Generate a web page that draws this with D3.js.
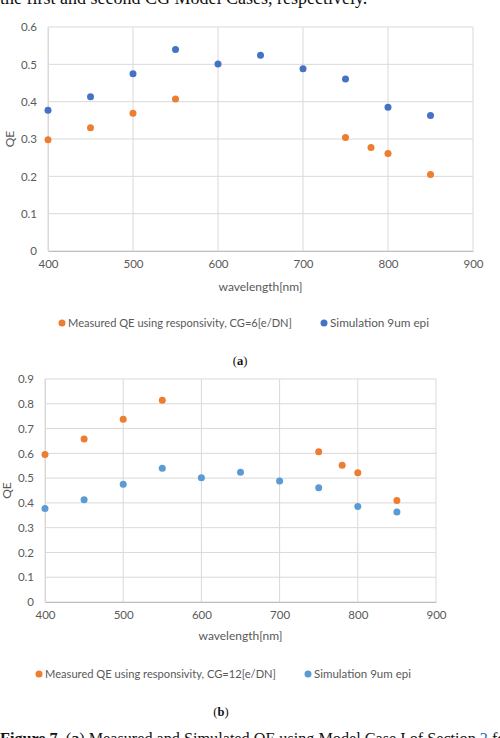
<!DOCTYPE html>
<html>
  <head>
    <title>QE</title>
    <script src="https://cdn.jsdelivr.net/npm/d3@7"></script>
    <style>
      body {
        margin: 0;
        background: white;
      }
      svg {
        display: block;
      }
      .tick text {
        font-family: Lato, "Open Sans", sans-serif;
        font-size: 11.5px;
        fill: #595959;
      }
      .lbl {
        font-family: Lato, "Open Sans", sans-serif;
        fill: #595959;
      }
      .serif {
        font-family: "Liberation Serif", "DejaVu Serif", serif;
        fill: #111;
      }
    </style>
  </head>
  <body>
    <script>
    // wavelengths [nm]
    var simWave = [400, 450, 500, 550, 600, 650, 700, 750, 800, 850];
    var simQE = [0.377, 0.413, 0.475, 0.540, 0.501, 0.524, 0.488, 0.461, 0.385, 0.363];

    var measWave = [400, 450, 500, 550, 750, 780, 800, 850];
    var measQE6 = [0.298, 0.330, 0.369, 0.407, 0.304, 0.277, 0.261, 0.205];
    var measQE12 = [0.595, 0.658, 0.738, 0.814, 0.606, 0.552, 0.522, 0.410];

    var xTicks = [400, 500, 600, 700, 800, 900];
    var yTicksA = [0, 0.1, 0.2, 0.3, 0.4, 0.5, 0.6];
    var yTicksB = [0, 0.1, 0.2, 0.3, 0.4, 0.5, 0.6, 0.7, 0.8, 0.9];

    var W = 500, H = 738;
    var svg = d3.select('body').append('svg')
      .attr('width', W)
      .attr('height', H);

    function zip(xs, ys) {
      return xs.map(function (x, i) { return {x: x, y: ys[i]}; });
    }

    function drawChart(opt) {
      var x = d3.scaleLinear().domain([400, 900]).range([opt.left, opt.right]);
      var y = d3.scaleLinear().domain([0, opt.yMax]).range([opt.bottom, opt.top]);
      var g = svg.append('g');

      // grid
      g.append('g').selectAll('line.h').data(opt.yTicks).enter().append('line')
        .attr('x1', opt.left).attr('x2', opt.right)
        .attr('y1', function (d) { return y(d); })
        .attr('y2', function (d) { return y(d); })
        .attr('stroke', '#d9d9d9').attr('stroke-width', 1);
      g.append('g').selectAll('line.v').data(xTicks).enter().append('line')
        .attr('x1', function (d) { return x(d); })
        .attr('x2', function (d) { return x(d); })
        .attr('y1', opt.top).attr('y2', opt.bottom)
        .attr('stroke', '#d9d9d9').attr('stroke-width', 1);

      // axes
      var xa = g.append('g')
        .attr('transform', 'translate(0,' + opt.bottom + ')')
        .call(d3.axisBottom(x).tickValues(xTicks).tickSize(0).tickPadding(9));
      xa.select('.domain').attr('stroke', '#bfbfbf');
      var ya = g.append('g')
        .attr('transform', 'translate(' + opt.left + ',0)')
        .call(d3.axisLeft(y).tickValues(opt.yTicks).tickSize(0).tickPadding(11)
          .tickFormat(function (d) { return d === 0 ? '0' : d3.format('.1f')(d); }));
      ya.select('.domain').attr('stroke', '#d9d9d9');

      // points
      g.append('g').selectAll('circle').data(zip(simWave, simQE)).enter().append('circle')
        .attr('cx', function (d) { return x(d.x); })
        .attr('cy', function (d) { return y(d.y); })
        .attr('r', 3.5)
        .attr('fill', opt.simColor);
      g.append('g').selectAll('circle').data(zip(measWave, opt.meas)).enter().append('circle')
        .attr('cx', function (d) { return x(d.x); })
        .attr('cy', function (d) { return y(d.y); })
        .attr('r', 3.5)
        .attr('fill', '#ed7d31');

      // axis titles
      g.append('text').attr('class', 'lbl')
        .attr('x', (opt.left + opt.right) / 2).attr('y', opt.bottom + opt.xlabOff)
        .attr('text-anchor', 'middle').style('font-size', '12px')
        .text('wavelength[nm]');
      g.append('text').attr('class', 'lbl')
        .attr('transform', 'translate(' + (opt.left - 34) + ',' + ((opt.top + opt.bottom) / 2) + ') rotate(-90)')
        .attr('text-anchor', 'middle').style('font-size', '12px')
        .text('QE');

      // legend
      g.append('circle').attr('cx', opt.leg1).attr('cy', opt.legY).attr('r', 3.5).attr('fill', '#ed7d31');
      g.append('text').attr('class', 'lbl')
        .attr('x', opt.leg1 + 6).attr('y', opt.legY + 4).style('font-size', '11px')
        .attr('textLength', opt.len1).attr('lengthAdjust', 'spacingAndGlyphs')
        .text(opt.measLabel);
      g.append('circle').attr('cx', opt.leg2).attr('cy', opt.legY).attr('r', 3.5).attr('fill', opt.simColor);
      g.append('text').attr('class', 'lbl')
        .attr('x', opt.leg2 + 6).attr('y', opt.legY + 4).style('font-size', '11px')
        .attr('textLength', opt.len2).attr('lengthAdjust', 'spacingAndGlyphs')
        .text('Simulation 9um epi');

      // sub caption
      var t = g.append('text').attr('class', 'serif')
        .attr('x', opt.capX).attr('y', opt.capY).attr('text-anchor', 'middle')
        .style('font-size', '12.5px');
      t.append('tspan').text('(');
      t.append('tspan').style('font-weight', 'bold').text(opt.cap);
      t.append('tspan').text(')');
    }

    drawChart({
      left: 48, right: 473, top: 27, bottom: 251, xlabOff: 40,
      yMax: 0.6, yTicks: yTicksA, meas: measQE6, simColor: '#4472c4',
      measLabel: 'Measured QE using responsivity, CG=6[e/DN]',
      leg1: 62, leg2: 324, legY: 323, len1: 224, len2: 99,
      cap: 'a', capX: 240, capY: 365
    });

    drawChart({
      left: 45, right: 436, top: 379, bottom: 602, xlabOff: 38,
      yMax: 0.9, yTicks: yTicksB, meas: measQE12, simColor: '#5b9bd5',
      measLabel: 'Measured QE using responsivity, CG=12[e/DN]',
      leg1: 39, leg2: 308, legY: 674, len1: 231, len2: 97,
      cap: 'b', capX: 221, capY: 716
    });

    // surrounding page text (cut off at the page edges, as in the source)
    svg.append('text').attr('class', 'serif')
      .attr('x', 0).attr('y', 4).style('font-size', '18px')
      .text('the first and second CG Model Cases, respectively.');

    var cap = svg.append('text').attr('class', 'serif')
      .attr('x', 0).attr('y', 744).style('font-size', '16.2px');
    cap.append('tspan').style('font-weight', 'bold').text('Figure 7.');
    cap.append('tspan').text(' (');
    cap.append('tspan').style('font-weight', 'bold').text('a');
    cap.append('tspan').text(') Measured and Simulated QE using Model Case I of Section ');
    cap.append('tspan').style('fill', '#2a6ebb').text('3');
    cap.append('tspan').text(' for');
    </script>
  </body>
</html>
